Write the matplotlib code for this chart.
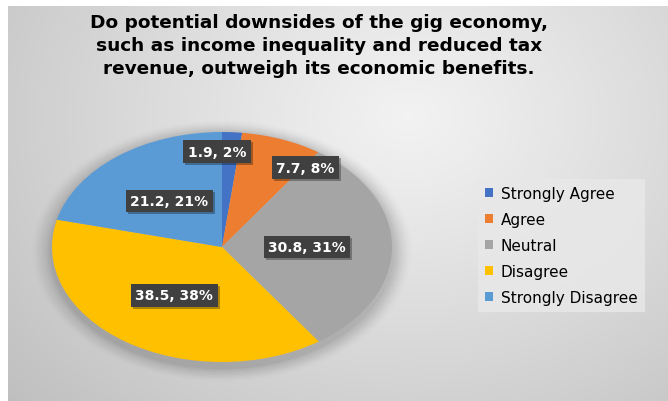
import numpy as np
import matplotlib
matplotlib.use("Agg")
import matplotlib.pyplot as plt
from matplotlib.patches import Ellipse, Rectangle
from matplotlib.transforms import IdentityTransform

# Survey responses
categories = ["Strongly Agree", "Agree", "Neutral", "Disagree", "Strongly Disagree"]
values = [1.9, 7.7, 30.8, 38.5, 21.2]
percent_labels = ["2%", "8%", "31%", "38%", "21%"]
colors = ["#4472C4", "#ED7D31", "#A5A5A5", "#FFC000", "#5B9BD5"]
title = ("Do potential downsides of the gig economy,\n"
         "such as income inequality and reduced tax\n"
         "revenue, outweigh its economic benefits.")

# label anchors in unit-pie coordinates
label_pos = [(-0.03, 0.83), (0.49, 0.69), (0.50, 0.0), (-0.28, -0.42), (-0.31, 0.40)]

W, H = 668, 402
fig = plt.figure(figsize=(W / 100, H / 100), dpi=100)
fig.patch.set_facecolor("white")

# gradient backdrop
bg = fig.add_axes([8 / W, 0, (W - 8) / W, (H - 7) / H])
bg.set_axis_off()
yy, xx = np.mgrid[0:H - 7, 0:W - 8]
cx, cy = 400, 110
d = np.hypot((xx - cx) / 1.25, yy - cy)
d = d / d.max()
shade = 0.95 - 0.20 * d ** 1.1
img = np.dstack([shade, shade, shade])
bg.imshow(img, aspect="auto", interpolation="bilinear")

# pie axes: stretched horizontally
px_cx, px_cy, rx, ry = 222, 248, 170, 115
ax = fig.add_axes([(px_cx - rx) / W, (H - px_cy - ry) / H, 2 * rx / W, 2 * ry / H])
ax.set_axis_off()

# soft shadow under the pie
for i, a in enumerate(np.linspace(0.035, 0.008, 9)):
    s = 1.0 + 0.013 * (i + 1)
    ax.add_patch(Ellipse((0.0, -0.035), 2 * s, 2 * s * 1.015, facecolor="black",
                         alpha=a, edgecolor="none", zorder=0, clip_on=False))

ax.pie(values, colors=colors, startangle=90, counterclock=False, radius=1.0,
       wedgeprops=dict(edgecolor="none", zorder=1))
ax.set_aspect("auto")
ax.set_xlim(-1, 1)
ax.set_ylim(-1, 1)

labels = []
for (x, y), v, p in zip(label_pos, values, percent_labels):
    t = ax.text(x, y, f"{v}, {p}", ha="center", va="center", fontsize=10,
                fontweight="bold", family="DejaVu Sans", color="white",
                bbox=dict(boxstyle="square,pad=0.32", fc="#404040", ec="none"),
                zorder=5)
    labels.append(t)

# drop shadows behind the label boxes
fig.canvas.draw()
for t in labels:
    bb = t.get_bbox_patch().get_window_extent()
    ax.add_artist(Rectangle((bb.x0 + 2, bb.y0 - 2), bb.width, bb.height,
                            transform=IdentityTransform(), facecolor="black",
                            alpha=0.3, edgecolor="none", zorder=3, clip_on=False))

fig.text(319 / W, 1 - 46 / H, title, ha="center", va="center", fontsize=13.3,
         fontweight="bold", family="DejaVu Sans", color="black", linespacing=1.33)

handles = [Rectangle((0, 0), 1, 1, facecolor=c, edgecolor="none") for c in colors]
leg = fig.legend(handles, categories, loc="upper left",
                 bbox_to_anchor=(478 / W, 1 - 180 / H), bbox_transform=fig.transFigure,
                 frameon=True, fancybox=False, borderaxespad=0, borderpad=0.45,
                 prop=dict(family="DejaVu Sans", size=11),
                 handlelength=0.55, handleheight=0.55, handletextpad=0.5,
                 labelspacing=0.72)
leg.get_frame().set_facecolor("#e8e8e8")
leg.get_frame().set_edgecolor("none")
leg.get_frame().set_alpha(0.85)

fig.savefig("out.png", dpi=100)
